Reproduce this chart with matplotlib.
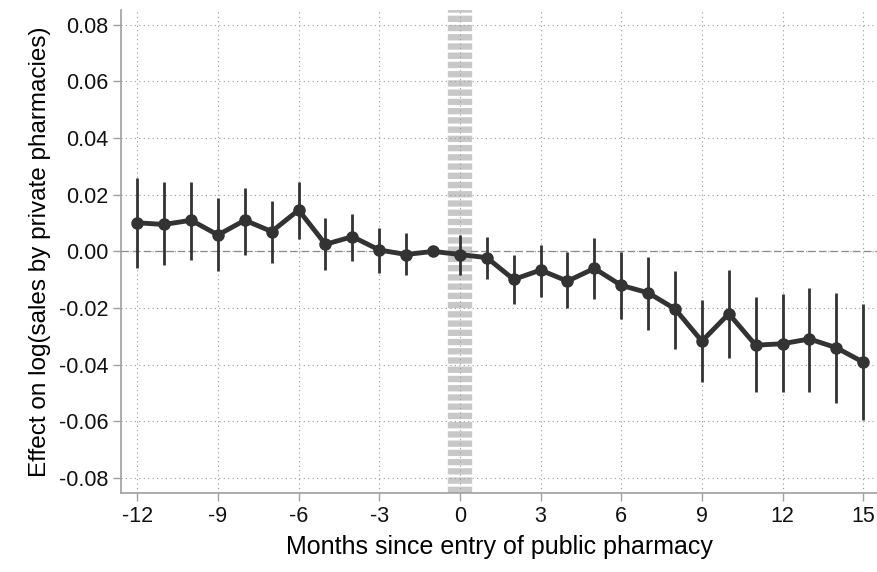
import matplotlib.pyplot as plt
import numpy as np

plt.rcParams['font.family'] = ['Liberation Sans', 'DejaVu Sans']
plt.rcParams['axes.unicode_minus'] = False

# event-time coefficients, month -1 is the omitted reference period
months = np.arange(-12, 16)
coef = [0.0101, 0.0095, 0.0110, 0.0058, 0.0110, 0.0070, 0.0146, 0.0025, 0.0052, 0.0005,
        -0.0011, 0.0000, -0.0011, -0.0022, -0.0099, -0.0066, -0.0105, -0.0060, -0.0120,
        -0.0146, -0.0203, -0.0317, -0.0220, -0.0331, -0.0326, -0.0309, -0.0340, -0.0391]
ci_hi = [0.0258, 0.0245, 0.0245, 0.0188, 0.0225, 0.0178, 0.0245, 0.0117, 0.0131, 0.0084,
         0.0066, np.nan, 0.0057, 0.0050, -0.0014, 0.0022, -0.0002, 0.0048, -0.0002,
         -0.0019, -0.0070, -0.0170, -0.0066, -0.0160, -0.0152, -0.0128, -0.0146, -0.0184]
ci_lo = [-0.0058, -0.0049, -0.0031, -0.0070, -0.0013, -0.0040, 0.0045, -0.0064, -0.0034, -0.0078,
         -0.0084, np.nan, -0.0084, -0.0099, -0.0184, -0.0160, -0.0200, -0.0167, -0.0238,
         -0.0276, -0.0343, -0.0460, -0.0376, -0.0497, -0.0497, -0.0497, -0.0535, -0.0596]

xticks = np.arange(-12, 16, 3)
yticks = np.arange(-0.08, 0.081, 0.02)

fig = plt.figure(figsize=(8.78, 5.72), dpi=100)
ax = fig.add_axes([0.138, 0.138, 0.862, 0.845])

dark = '#333333'
spine_c = '#a0a0a0'

# entry marker at month 0
ax.axvline(0, color='#c8c8c8', lw=17.5, dashes=(0.26, 0.12), solid_capstyle='butt',
           dash_capstyle='butt', zorder=1)

ax.set_xticks(xticks)
ax.set_yticks(yticks)
ax.set_yticklabels(['%.2f' % v if abs(v) > 1e-9 else '0.00' for v in yticks])
ax.grid(True, color='#9a9a9a', linestyle=(0, (1, 3)), lw=0.8, zorder=0)
ax.axhline(0, color='#8a8a8a', lw=0.9, dashes=(6, 3), zorder=2)

ax.vlines(months, ci_lo, ci_hi, color=dark, lw=2.0, zorder=3)
ax.plot(months, coef, color=dark, lw=3.5, marker='o', ms=8, zorder=4)

ax.set_xlim(-12.6, 15.55)
ax.set_ylim(-0.0853, 0.0853)

for s in ['top', 'right']:
    ax.spines[s].set_visible(False)
for s in ['left', 'bottom']:
    ax.spines[s].set_color(spine_c)
    ax.spines[s].set_linewidth(1.2)
ax.tick_params(direction='out', length=6, width=1.0, color=spine_c, labelsize=15.5,
               pad=3, labelcolor='#111111')

ax.set_xlabel('Months since entry of public pharmacy', fontsize=18, labelpad=6)
ax.set_ylabel('Effect on log(sales by private pharmacies)', fontsize=17.5, labelpad=6)

fig.savefig('out.png', dpi=100)
